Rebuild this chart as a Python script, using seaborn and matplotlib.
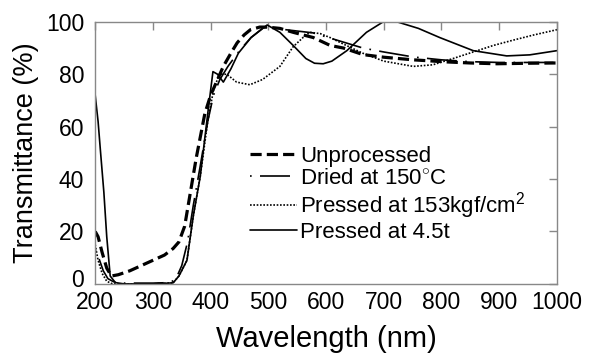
import matplotlib
matplotlib.use('Agg')
import matplotlib.pyplot as plt
import matplotlib.transforms as mtransforms
import seaborn as sns
import pandas as pd

# 1. data (wavelength nm, transmittance %)
unproc_x = [200, 205, 212, 220, 228, 240, 260, 280, 300, 320, 335, 345, 355, 365, 375, 390, 400, 410,
            422, 435, 446, 458, 469, 485, 498, 520, 543, 578, 607, 630, 664, 700, 751, 809, 850, 896, 950, 1000]
unproc_y = [20, 18, 12, 6, 3, 3.5, 5, 7, 9, 11, 13.5, 16, 22, 35, 48, 65, 72, 77,
            83, 88, 92, 95, 97, 98, 98, 97.5, 96, 94, 91, 90, 87.5, 86.5, 85.5, 84.7, 84.3, 84, 84.2, 84.3]

dried_x = [200, 206, 214, 222, 232, 250, 300, 330, 340, 350, 360, 370, 382, 395, 405, 416, 430, 450,
           470, 491, 500, 530, 577, 619, 664, 700, 751, 800, 850, 900, 950, 1000]
dried_y = [13, 10, 5, 2, 0.8, 0.3, 0.3, 0.5, 2, 7, 16, 30, 45, 62, 72, 78, 83, 89,
           94, 97.7, 98, 97, 95.8, 93, 90, 88.5, 86.6, 85.5, 84.8, 84.5, 84.5, 84.5]

press153_x = [200, 205, 212, 220, 230, 245, 300, 335, 345, 359, 370, 382, 395, 405, 415, 428, 445, 468,
              490, 520, 543, 560, 572, 590, 607, 635, 664, 700, 751, 785, 820, 855, 890, 924, 960, 1000]
press153_y = [15, 9, 4, 1, 0, 0, 0, 0.4, 3, 9, 26, 41, 62, 74, 80, 80, 77, 76,
              78, 83, 90.5, 94, 96, 95.5, 94, 91, 88, 85, 83, 83.6, 86, 88.5, 91, 93, 95, 97]

press45_x = [200, 205, 209, 215, 220, 226, 235, 250, 300, 335, 345, 359, 370, 382, 395, 404, 412, 422,
             435, 448, 470, 498, 520, 543, 565, 580, 595, 610, 636, 670, 699, 723, 760, 797, 855, 913, 953, 1000]
press45_y = [72, 62, 51, 35, 18, 3, 0.5, 0, 0, 0.4, 3, 9, 26, 41, 65, 81, 80, 77,
             82, 88, 94, 98.8, 96, 91, 86, 84.2, 84, 85, 89, 96, 100, 100, 97.5, 94, 89, 87, 87.4, 89]

labels = ['Unprocessed', 'Dried at 150$^{\\circ}$C',
          'Pressed at 153kgf/cm$^{2}$', 'Pressed at 4.5t']

sns.set_style('white')
plt.rcParams['font.family'] = ['Liberation Sans', 'DejaVu Sans']
plt.rcParams['mathtext.fontset'] = 'custom'
plt.rcParams['mathtext.rm'] = 'Liberation Sans'
plt.rcParams['mathtext.it'] = 'Liberation Sans:italic'
plt.rcParams['text.color'] = 'black'
plt.rcParams['axes.labelcolor'] = 'black'

fig = plt.figure(figsize=(5.95, 3.58), dpi=100)
ax = fig.add_axes([0.16, 0.207, 0.776, 0.732])

# 2. curves
series = [
    (unproc_x, unproc_y, labels[0], 2.3, (0, (3.5, 1.6))),
    (dried_x, dried_y, labels[1], 1.2, (0, (1, 5, 18, 5))),
    (press153_x, press153_y, labels[2], 1.2, (0, (1, 1))),
    (press45_x, press45_y, labels[3], 1.2, '-'),
]
for xs, ys, lab, lw, ls in series:
    df = pd.DataFrame({'wl': xs, 'T': ys})
    sns.lineplot(data=df, x='wl', y='T', ax=ax, color='black', lw=lw,
                 linestyle=ls, label=lab)

ax.set_xlim(200, 1000)
ax.set_ylim(0, 100)
ax.set_xticks(range(200, 1001, 100))
ax.set_yticks(range(0, 101, 20))
ax.tick_params(direction='in', length=6, width=1, color='#888888',
               labelsize=16.5, labelcolor='black', top=True, right=True)
ax.tick_params(axis='x', pad=5)
ax.tick_params(axis='y', pad=8)
for sp in ax.spines.values():
    sp.set_color('#888888')
    sp.set_linewidth(1)
ax.set_xlabel('Wavelength (nm)', fontsize=21, labelpad=8)
ax.set_ylabel('Transmittance (%)', fontsize=19.5, labelpad=5)

# the "0" label sits a little higher, clear of "200"
fig.canvas.draw()
lab0 = ax.get_yticklabels()[0]
lab0.set_transform(lab0.get_transform() + mtransforms.ScaledTranslation(0, 4 / 72, fig.dpi_scale_trans))

ax.legend(frameon=False, fontsize=16, loc='upper left',
          bbox_to_anchor=(0.317, 0.56), handlelength=2.1, handletextpad=0.15,
          labelspacing=0.05, borderaxespad=0)

plt.savefig('out.png', dpi=100)
